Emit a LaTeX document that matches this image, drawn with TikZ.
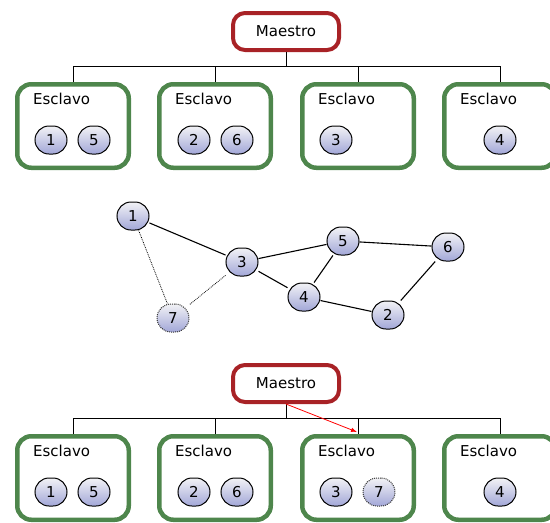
\documentclass[tikz,border=0pt]{standalone}
\usepackage{fontspec}
\setmainfont{DejaVu Sans}
\usetikzlibrary{arrows.meta}
\definecolor{masterred}{RGB}{168,34,38}
\definecolor{slavegreen}{RGB}{78,134,76}
\definecolor{nodetop}{RGB}{242,242,245}
\definecolor{nodemid}{RGB}{222,223,234}
\definecolor{nodebot}{RGB}{162,167,216}
\begin{document}
\begin{tikzpicture}[x=1pt,y=-1pt,
  font=\fontsize{15}{18}\selectfont,
  master/.style={draw=masterred, line width=4pt, rounded corners=12pt,
    minimum width=106pt, minimum height=37pt, inner sep=0pt, fill=white},
  slave/.style={draw=slavegreen, line width=4.5pt, rounded corners=14pt,
    minimum width=111.5pt, minimum height=83.5pt, inner sep=0pt},
  tag/.style={anchor=west, inner sep=0pt},
  proc/.style={draw=black, line width=1pt, rounded corners=14pt,
    minimum width=32pt, minimum height=28pt, inner sep=0pt,
    top color=nodetop, middle color=nodemid, bottom color=nodebot},
  ghost/.style={proc, draw=black!80, densely dotted},
  wire/.style={line width=0.9pt},
  link/.style={line width=1.1pt},
  weak/.style={line width=0.8pt, densely dotted},
  move/.style={red, line width=0.8pt, -{Latex[length=6pt,width=4.5pt]}}]
\useasboundingbox (0,0) rectangle (550,523);

% ---------- first assignment ----------
\node[master] (mA) at (286,31.5) {Maestro};
\node[slave] (sA1) at (73,126) {};
\node[slave] (sA2) at (215,126) {};
\node[slave] (sA3) at (358,126) {};
\node[slave] (sA4) at (500,126) {};
\foreach \s in {sA1,sA2,sA3,sA4}
  \node[tag] (\s t) at ([xshift=-40pt,yshift=27pt]\s.center) {Esclavo};
\node[proc] (a1) at (51,140) {1};
\node[proc] (a5) at (94,140) {5};
\node[proc] (a2) at (194,140) {2};
\node[proc] (a6) at (237,140) {6};
\node[proc] (a3) at (336,140) {3};
\node[proc] (a4) at (500,140) {4};
\coordinate (hubA) at (286,66);
\draw[wire] (mA.south) -- (hubA);
\draw[wire] (sA1.north) |- (hubA);
\draw[wire] (sA4.north) |- (hubA);
\draw[wire] (sA2.north) -- (sA2.north |- hubA);
\draw[wire] (sA3.north) -- (sA3.north |- hubA);

% ---------- process graph ----------
\node[proc] (g1) at (133,216) {1};
\node[proc] (g3) at (242,262) {3};
\node[proc] (g5) at (343,241) {5};
\node[proc] (g6) at (448,247) {6};
\node[proc] (g4) at (304,297) {4};
\node[proc] (g2) at (388,315) {2};
\node[ghost] (g7) at (173,318) {7};
\draw[link] (g1) -- (g3);
\draw[link] (g3) -- (g5);
\draw[link] (g3) -- (g4);
\draw[link] (g4) -- (g5);
\draw[link] (g5) -- (g6);
\draw[link] (g6) -- (g2);
\draw[link] (g4) -- (g2);
\draw[weak] (g1) -- (g7);
\draw[weak] (g3) -- (g7);

% ---------- second assignment ----------
\node[master] (mB) at (286,383.5) {Maestro};
\node[slave] (sB1) at (73,478) {};
\node[slave] (sB2) at (215,478) {};
\node[slave] (sB3) at (358,478) {};
\node[slave] (sB4) at (500,478) {};
\foreach \s in {sB1,sB2,sB3,sB4}
  \node[tag] (\s t) at ([xshift=-40pt,yshift=27pt]\s.center) {Esclavo};
\node[proc] (b1) at (51,492) {1};
\node[proc] (b5) at (94,492) {5};
\node[proc] (b2) at (194,492) {2};
\node[proc] (b6) at (237,492) {6};
\node[proc] (b3) at (336,492) {3};
\node[ghost] (b7) at (379,492) {7};
\node[proc] (b4) at (500,492) {4};
\coordinate (hubB) at (286,418);
\draw[wire] (mB.south) -- (hubB);
\draw[wire] (sB1.north) |- (hubB);
\draw[wire] (sB4.north) |- (hubB);
\draw[wire] (sB2.north) -- (sB2.north |- hubB);
\draw[wire] (sB3.north) -- (sB3.north |- hubB);
\draw[move] (mB.south) -- ([xshift=-1pt,yshift=2pt]sB3.north);
\end{tikzpicture}
\end{document}
